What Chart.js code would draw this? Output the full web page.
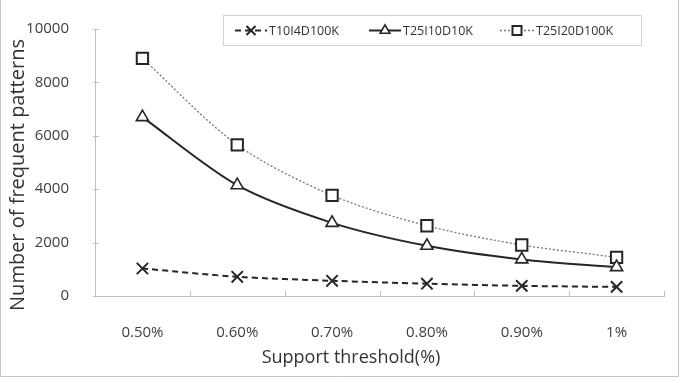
<!DOCTYPE html>
<html>
<head>
<meta charset="utf-8">
<script src="https://cdn.jsdelivr.net/npm/chart.js@4"></script>
<style>
  html, body { margin: 0; padding: 0; background: #fff; }
</style>
</head>
<body>
<canvas id="chart1" width="684" height="383"></canvas>
<script>
const labels = ['0.50%', '0.60%', '0.70%', '0.80%', '0.90%', '1%'];
const t10i4d100k = [1030, 720, 570, 460, 380, 340];
const t25i10d10k = [6700, 4150, 2740, 1880, 1370, 1080];
const t25i20d100k = [8900, 5660, 3770, 2630, 1910, 1450];
const yMax = 10000;
const yStep = 2000;

const FONT = "'Open Sans', sans-serif";

// frame, inward tick marks, axis titles and the boxed legend
const decor = {
    id: 'decor',
    beforeDraw(chart) {
        const c = chart.ctx;
        c.save();
        c.strokeStyle = '#c4c4c4';
        c.lineWidth = 1;
        c.beginPath();
        c.moveTo(0.5, 0);
        c.lineTo(0.5, 376.5);
        c.lineTo(678.5, 376.5);
        c.lineTo(678.5, 0);
        c.stroke();
        c.restore();
    },
    afterDraw(chart) {
        const c = chart.ctx;
        const a = chart.chartArea;
        const ys = chart.scales.y;
        c.save();
        c.strokeStyle = '#bfbfbf';
        c.lineWidth = 1;
        c.beginPath();
        ys.ticks.forEach((t, i) => {
            const y = Math.round(ys.getPixelForTick(i)) + 0.5;
            c.moveTo(a.left - 2, y);
            c.lineTo(a.left + 4, y);
        });
        const n = labels.length;
        for (let i = 0; i <= n; i++) {
            const x = Math.round(a.left + (a.right - a.left) * i / n) + 0.5;
            c.moveTo(x, a.bottom);
            c.lineTo(x, a.bottom - 5);
        }
        c.stroke();

        // axis titles
        c.fillStyle = '#333';
        c.textAlign = 'center';
        c.textBaseline = 'middle';
        c.font = '18px ' + FONT;
        c.fillText('Support threshold(%)', 351, 358);
        c.translate(18, 175);
        c.rotate(-Math.PI / 2);
        c.font = '20px ' + FONT;
        c.fillText('Number of frequent patterns', 0, 0);
        c.restore();

        // legend
        c.save();
        const box = { left: 223.5, top: 15.5, right: 641.5, bottom: 45.5 };
        c.strokeStyle = '#d0d0d0';
        c.lineWidth = 1;
        c.strokeRect(box.left, box.top, box.right - box.left, box.bottom - box.top);
        const cy = 30.5;
        const starts = [235, 369, 500];
        c.font = '12.5px ' + FONT;
        c.textAlign = 'left';
        c.textBaseline = 'middle';
        chart.data.datasets.forEach((ds, i) => {
            const x0 = starts[i];
            const len = i === 2 ? 34 : 32;
            c.save();
            c.strokeStyle = ds.borderColor;
            c.lineWidth = ds.borderWidth;
            c.setLineDash(ds.borderDash || []);
            c.beginPath();
            c.moveTo(x0, cy);
            c.lineTo(x0 + len, cy);
            c.stroke();
            c.setLineDash([]);
            c.fillStyle = '#fff';
            c.strokeStyle = ds.pointBorderColor;
            c.lineWidth = ds.pointBorderWidth;
            Chart.helpers.drawPoint(c, {
                pointStyle: ds.pointStyle,
                radius: ds.pointRadius * 0.8,
                borderWidth: ds.pointBorderWidth,
                rotation: 0
            }, x0 + len / 2, cy);
            c.restore();
            c.fillStyle = '#333';
            c.fillText(ds.label, x0 + len + 2, cy + 1);
        });
        c.restore();
    }
};

new Chart(document.getElementById('chart1'), {
    type: 'line',
    data: {
        labels: labels,
        datasets: [
            {
                label: 'T10I4D100K',
                data: t10i4d100k,
                borderColor: '#262626',
                borderWidth: 2,
                borderDash: [6, 4],
                pointStyle: 'crossRot',
                pointRadius: 8,
                pointBorderWidth: 2,
                pointBorderColor: '#262626',
                pointBackgroundColor: '#fff',
                tension: 0.3
            },
            {
                label: 'T25I10D10K',
                data: t25i10d10k,
                borderColor: '#262626',
                borderWidth: 2,
                pointStyle: 'triangle',
                pointRadius: 7,
                pointBorderWidth: 1.6,
                pointBorderColor: '#262626',
                pointBackgroundColor: '#fff',
                tension: 0.3
            },
            {
                label: 'T25I20D100K',
                data: t25i20d100k,
                borderColor: '#777',
                borderWidth: 1.3,
                borderDash: [2, 2],
                pointStyle: 'rect',
                pointRadius: 8,
                pointBorderWidth: 2,
                pointBorderColor: '#262626',
                pointBackgroundColor: '#fff',
                tension: 0.3
            }
        ]
    },
    options: {
        responsive: false,
        animation: false,
        layout: { padding: { top: 29, right: 20, left: 0, bottom: 0 } },
        plugins: {
            legend: { display: false },
            tooltip: { enabled: false }
        },
        scales: {
            x: {
                offset: true,
                grid: { display: false },
                border: { display: true, color: '#bfbfbf', width: 1 },
                ticks: {
                    color: '#404040',
                    font: { family: FONT, size: 15 },
                    padding: 20,
                    maxRotation: 0
                },
                afterFit(scale) { scale.height = 87; }
            },
            y: {
                min: 0,
                max: yMax,
                grid: { display: false },
                border: { display: true, color: '#bfbfbf', width: 1 },
                ticks: {
                    stepSize: yStep,
                    color: '#404040',
                    font: { family: FONT, size: 15 },
                    padding: 18,
                    callback: (v) => String(v)
                },
                afterFit(scale) { scale.width = 95; }
            }
        }
    },
    plugins: [decor]
});
</script>
</body>
</html>
